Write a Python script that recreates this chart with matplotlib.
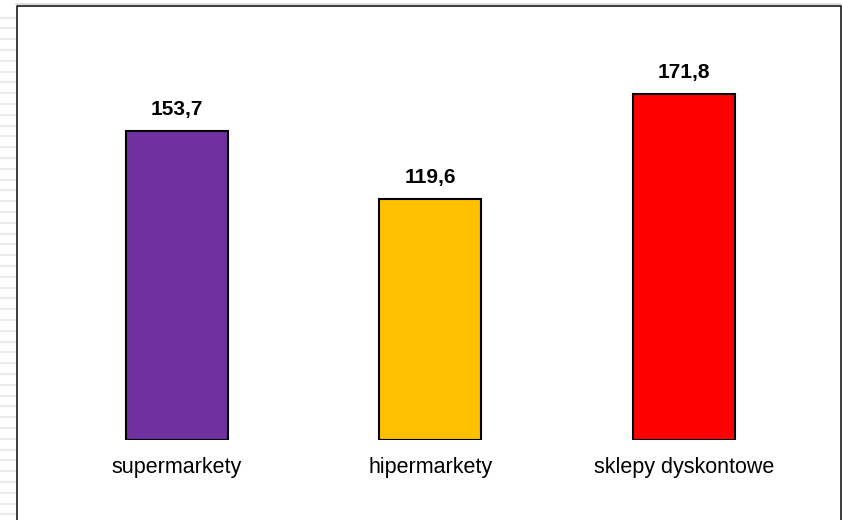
import numpy as np
import matplotlib
matplotlib.use('Agg')
import matplotlib.pyplot as plt
import matplotlib.patheffects as pe
from matplotlib.lines import Line2D

plt.rcParams['font.family'] = ['Liberation Sans', 'DejaVu Sans']

# Data
categories = ['supermarkety', 'hipermarkety', 'sklepy dyskontowe']
values = [153.7, 119.6, 171.8]
value_labels = ['153,7', '119,6', '171,8']
colors = ['#7030A0', '#FFC000', '#FF0000']

W, H = 842, 520
fig = plt.figure(figsize=(W / 100, H / 100), dpi=100)
fig.patch.set_facecolor('white')

# faint slide stripes on the left margin
for yy in np.arange(17.5, H, 10.8):
    fig.add_artist(Line2D([0, 15 / W], [1 - yy / H, 1 - yy / H], color='#ebebeb', lw=1.5))

# frame around chart area
fig.add_artist(Line2D([16 / W, 1], [1 - 4 / H, 1 - 4 / H], color='#d8d8d8', lw=1.2))
fig.add_artist(Line2D([16.5 / W, 16.5 / W, 841 / W, 841 / W],
                      [0, 1 - 5.5 / H, 1 - 5.5 / H, 0], color='#1a1a1a', lw=1.2))

# axes placed so that baseline sits at 440 px from the top
ax = fig.add_axes([17 / W, 80 / H, 823 / W, 434 / H])
ax.set_facecolor('none')
x = np.arange(len(categories))
bars = ax.bar(x, values, width=0.402, color=colors, edgecolor='black', linewidth=1.5, zorder=3)
for b in bars:
    b.set_path_effects([pe.SimplePatchShadow(offset=(0.8, -1.8), shadow_rgbFace='#7a7a7a', alpha=1.0),
                        pe.Normal()])

for xi, v, lab in zip(x, values, value_labels):
    ax.annotate(lab, (xi, v), xytext=(0, 15.5), textcoords='offset points',
                ha='center', va='center', fontsize=15, fontweight='bold', color='black')

ax.set_xlim(-0.631, 2.616)
ax.set_ylim(0, 215.7)
ax.set_xticks(x)
ax.set_xticklabels(categories, fontsize=15.5, color='black')
ax.tick_params(axis='x', length=0, pad=12.5)
ax.set_yticks([])
for s in ax.spines.values():
    s.set_visible(False)

fig.savefig('out.png', dpi=100)
